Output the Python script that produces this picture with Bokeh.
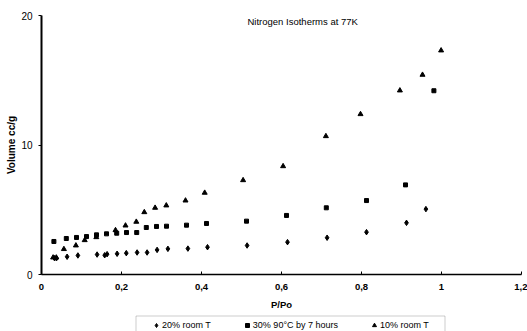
from bokeh.plotting import figure
from bokeh.models import Range1d, FixedTicker, Label, Legend, LegendItem, BoxAnnotation
from bokeh.layouts import column
from bokeh.embed import file_html
from bokeh.resources import INLINE

# ---- data ----
s1_name = "20% room T"
s1_x = [0.0325, 0.0375, 0.064, 0.091, 0.139, 0.158, 0.164, 0.189, 0.212, 0.239, 0.264,
        0.289, 0.316, 0.366, 0.415, 0.514, 0.615, 0.714, 0.8125, 0.9125, 0.961]
s1_y = [1.26, 1.26, 1.37, 1.47, 1.54, 1.49, 1.57, 1.60, 1.65, 1.70, 1.70,
        1.90, 1.98, 2.00, 2.11, 2.24, 2.50, 2.84, 3.27, 3.99, 5.05]

s2_name = "30% 90°C by 7 hours"
s2_x = [0.031, 0.062, 0.0875, 0.1125, 0.1375, 0.1625, 0.188, 0.2125, 0.238, 0.262,
        0.2875, 0.3125, 0.3625, 0.4125, 0.5125, 0.6125, 0.712, 0.8125, 0.91, 0.981]
s2_y = [2.55, 2.78, 2.86, 2.93, 3.06, 3.14, 3.19, 3.24, 3.24, 3.63,
        3.71, 3.73, 3.81, 3.94, 4.12, 4.56, 5.15, 5.71, 6.92, 14.19]

s3_name = "10% room T"
s3_x = [0.029, 0.037, 0.056, 0.086, 0.108, 0.137, 0.185, 0.21, 0.237, 0.257, 0.284,
        0.312, 0.36, 0.408, 0.504, 0.604, 0.711, 0.7975, 0.896, 0.9525, 0.999]
s3_y = [1.31, 1.31, 1.96, 2.24, 2.65, 2.88, 3.42, 3.78, 4.07, 4.81, 5.15,
        5.33, 5.71, 6.31, 7.28, 8.36, 10.68, 12.38, 14.21, 15.42, 17.30]

x_ticks = [0, 0.2, 0.4, 0.6, 0.8, 1.0, 1.2]
x_tick_labels = ["0", "0,2", "0,4", "0,6", "0,8", "1", "1,2"]
y_ticks = [0, 10, 20]
y_tick_labels = ["0", "10", "20"]

title_text = "Nitrogen Isotherms at 77K"
x_label = "P/Po"
y_label = "Volume cc/g"

FONT = "Liberation Sans"
NAN = float("nan")

# ---- main chart ----
p = figure(width=527, height=314, output_backend="svg", toolbar_location=None,
           x_range=Range1d(0, 1.2), y_range=Range1d(0, 20),
           min_border_left=41, min_border_right=6, min_border_top=15, min_border_bottom=40)
p.outline_line_color = None
p.xgrid.visible = False
p.ygrid.visible = False
p.background_fill_color = "white"
p.border_fill_color = "white"

r1 = p.scatter(s1_x, s1_y, marker="diamond", size=5.5, color="black")
r2 = p.scatter(s2_x, s2_y, marker="square", size=4, color="black")
r3 = p.scatter(s3_x, s3_y, marker="triangle", size=5, color="black")

xa = p.xaxis[0]
xa.ticker = FixedTicker(ticks=x_ticks)
xa.major_label_overrides = {t: l for t, l in zip(x_ticks, x_tick_labels)}
xa.minor_tick_line_color = None
xa.major_tick_in = 3
xa.major_tick_out = 0
xa.axis_line_width = 1.5
xa.axis_line_color = "black"
xa.major_tick_line_color = "black"
xa.major_label_text_font = FONT
xa.major_label_text_font_size = "9.5px"
xa.major_label_text_font_style = "bold"
xa.major_label_text_color = "black"
xa.major_label_standoff = 9
xa.axis_label = x_label
xa.axis_label_text_font = FONT
xa.axis_label_text_font_size = "9.5px"
xa.axis_label_text_font_style = "bold"
xa.axis_label_text_color = "black"
xa.axis_label_standoff = 6

ya = p.yaxis[0]
ya.ticker = FixedTicker(ticks=y_ticks)
ya.major_label_overrides = {t: l for t, l in zip(y_ticks, y_tick_labels)}
ya.minor_tick_line_color = None
ya.major_tick_in = 0
ya.major_tick_out = 3
ya.axis_line_width = 2
ya.axis_line_color = "black"
ya.major_tick_line_color = "black"
ya.major_label_text_font = FONT
ya.major_label_text_font_size = "10px"
ya.major_label_text_color = "black"
ya.major_label_standoff = 6
ya.axis_label = y_label
ya.axis_label_text_font = FONT
ya.axis_label_text_font_size = "10px"
ya.axis_label_text_font_style = "bold"
ya.axis_label_text_color = "black"
ya.axis_label_standoff = 1

title = Label(x=206, y=253, x_units="screen", y_units="screen", text=title_text,
              text_font=FONT, text_font_size="9.5px", text_color="black",
              text_baseline="middle", text_align="left")
p.add_layout(title)

# ---- legend strip (below the chart) ----
lg = figure(width=527, height=17, output_backend="svg", toolbar_location=None,
            x_range=Range1d(41, 521), y_range=Range1d(0, 17),
            x_axis_type=None, y_axis_type=None,
            min_border_left=41, min_border_right=6, min_border_top=0, min_border_bottom=0)
lg.outline_line_color = None
lg.background_fill_color = "white"
lg.border_fill_color = "white"
d1 = lg.scatter([NAN], [NAN], marker="diamond", size=5, color="black")
d2 = lg.scatter([NAN], [NAN], marker="square", size=4, color="black")
d3 = lg.scatter([NAN], [NAN], marker="triangle", size=5, color="black")

lg.add_layout(BoxAnnotation(left=135.5, right=444.5, top=15.5, bottom=-10,
                            fill_alpha=0, line_color="#555555", line_width=1))

legend = Legend(items=[LegendItem(label=s1_name, renderers=[d1]),
                       LegendItem(label=s2_name, renderers=[d2]),
                       LegendItem(label=s3_name, renderers=[d3])],
                orientation="horizontal", location=(110, 0),
                glyph_width=10, glyph_height=12, label_standoff=1, spacing=31,
                padding=4, margin=0,
                label_text_font=FONT, label_text_font_size="9px", label_text_color="black",
                border_line_color=None, background_fill_alpha=0)
lg.add_layout(legend, "center")

layout = column(p, lg, spacing=0)
open("out.html", "w").write(file_html(layout, INLINE))
